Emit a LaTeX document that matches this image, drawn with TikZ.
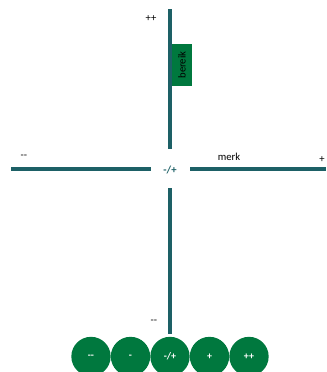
\documentclass[tikz,border=0pt]{standalone}
\usepackage{fontspec}
\setmainfont{Carlito}
\usepackage{xcolor}
\usetikzlibrary{shapes}

\definecolor{axisteal}{RGB}{29,96,102}
\definecolor{scalegreen}{RGB}{0,120,62}

\tikzset{
  axisline/.style={draw=axisteal, line width=3pt},
  axislabel/.style={inner sep=0.75pt, font=\fontsize{8}{9}\selectfont},
  scaledot/.style={circle, fill=scalegreen, draw=none, minimum size=29.5pt, inner sep=0pt,
    text=white, font=\fontsize{7.5}{9}\selectfont\bfseries}
}

\begin{document}
\begin{tikzpicture}[x=0.75pt,y=0.75pt,yscale=-1,xscale=1]
\useasboundingbox (0,0) rectangle (326,372);

% axis end points
\coordinate (vtop) at (170,9);
\coordinate (vmidtop) at (170,149);
\coordinate (vmidbot) at (170,188);
\coordinate (vbot) at (170,334);
\coordinate (hleft) at (11,169);
\coordinate (hmidleft) at (151,169);
\coordinate (hmidright) at (190,169);
\coordinate (hright) at (326,169);

% Axes
\draw [axisline] (vtop) -- (vmidtop) ;
\draw [axisline] (vmidbot) -- (vbot) ;
\draw [axisline] (hleft) -- (hmidleft) ;
\draw [axisline] (hmidright) -- (hright) ;

% Range box
\node (bereik) [fill=scalegreen, minimum width=15pt, minimum height=31.5pt, inner sep=0pt] at (182,65) {} ;
\node (bereiktxt) [rotate=90, axislabel] at (bereik.center) {bereik} ;

% Text Node
\node (toppp) [axislabel] at (151,19) {++} ;
% Text Node
\node (leftmm) [axislabel] at (24,157) {{-}{-}} ;
% Text Node
\node (merk) [axislabel] at (229,157) {merk} ;
% Text Node
\node (rightp) [axislabel] at (322,160) {+} ;
% Text Node
\node (centre) [axislabel, text=axisteal, font=\fontsize{8}{9}\selectfont\bfseries] at (170,170) {-/+} ;
% Text Node
\node (botmm) [axislabel] at (154,322) {{-}{-}} ;

% Scale dots
\node (dmm) [scaledot] at (91,356.5) {{-}{-}} ;
\node (dm) [scaledot] at (130.5,356.5) {-} ;
\node (dmp) [scaledot] at (170,356.5) {-/+} ;
\node (dp) [scaledot] at (209.5,356.5) {+} ;
\node (dpp) [scaledot] at (249,356.5) {++} ;

\end{tikzpicture}
\end{document}
